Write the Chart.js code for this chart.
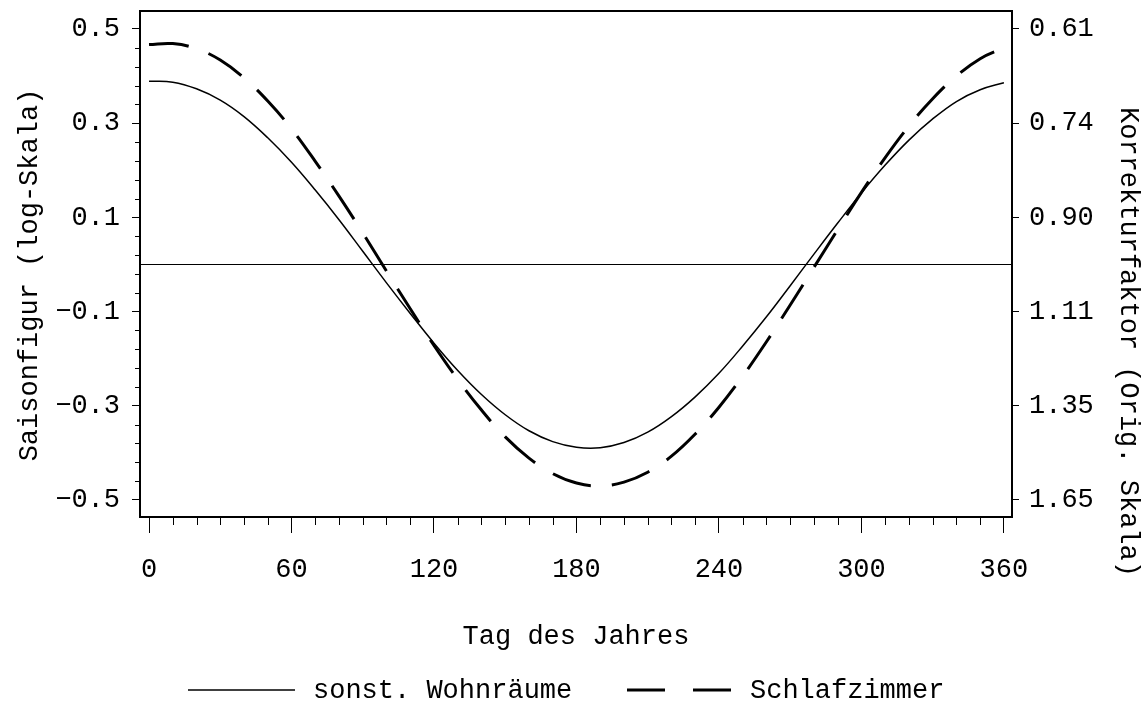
<!DOCTYPE html>
<html>
<head>
<meta charset="utf-8">
<script src="https://cdn.jsdelivr.net/npm/chart.js@4"></script>
<style>
  body { margin: 0; background: #fff; }
  #wrap { width: 1148px; height: 706px; }
</style>
</head>
<body>
<div id="wrap"><canvas id="chart" width="1148" height="706"></canvas></div>
<script>
const days = [0, 10, 20, 30, 40, 50, 60, 70, 80, 90, 100, 110, 120, 130, 140, 150, 160, 170, 180,
              190, 200, 210, 220, 230, 240, 250, 260, 270, 280, 290, 300, 310, 320, 330, 340, 350, 360];

// Saisonfigur, sonst. Wohnräume (durchgezogen)
const wohnraeume = [0.389, 0.387, 0.373, 0.349, 0.314, 0.269, 0.217, 0.158, 0.095, 0.028,
                    -0.039, -0.104, -0.167, -0.225, -0.276, -0.319, -0.353, -0.376, -0.388,
                    -0.389, -0.378, -0.356, -0.323, -0.281, -0.231, -0.173, -0.111, -0.045,
                    0.022, 0.088, 0.152, 0.211, 0.264, 0.309, 0.346, 0.371, 0.386];

// Saisonfigur, Schlafzimmer (gestrichelt)
const schlafzimmer = [0.467, 0.469, 0.458, 0.434, 0.396, 0.347, 0.288, 0.219, 0.145, 0.067,
                      -0.014, -0.094, -0.172, -0.244, -0.309, -0.366, -0.411, -0.444, -0.464,
                      -0.470, -0.462, -0.441, -0.407, -0.360, -0.303, -0.237, -0.164, -0.086,
                      -0.006, 0.074, 0.153, 0.227, 0.294, 0.352, 0.400, 0.437, 0.460];

const xTicks = [0, 60, 120, 180, 240, 300, 360];
const yTicks = [-0.5, -0.3, -0.1, 0.1, 0.3, 0.5];
const rightLabels = ['1.65', '1.35', '1.11', '0.90', '0.74', '0.61'];

const FONT = '"Liberation Mono", "DejaVu Sans Mono", monospace';

function noPad(s) {
    s.paddingTop = 0;
    s.paddingBottom = 0;
}

const extras = {
    id: 'extras',
    afterDraw(c) {
        const ctx = c.ctx;
        const a = c.chartArea;
        const sx = c.scales.x;
        const sy = c.scales.y;
        ctx.save();

        // Nulllinie
        ctx.strokeStyle = '#000';
        ctx.lineWidth = 1;
        const y0 = Math.round(sy.getPixelForValue(0)) + 0.5;
        ctx.beginPath();
        ctx.moveTo(a.left, y0);
        ctx.lineTo(a.right, y0);
        ctx.stroke();

        // kleine Striche
        ctx.beginPath();
        for (let d = 0; d <= 360; d += 10) {
            if (d % 60 === 0) continue;
            const px = Math.round(sx.getPixelForValue(d)) + 0.5;
            ctx.moveTo(px, a.bottom);
            ctx.lineTo(px, a.bottom + 8);
        }
        for (let i = 0; i <= 25; i++) {
            const v = -0.5 + i * 0.04;
            if (i % 5 === 0) continue;
            const py = Math.round(sy.getPixelForValue(v)) + 0.5;
            ctx.moveTo(a.left - 5, py);
            ctx.lineTo(a.left, py);
        }
        ctx.stroke();

        // Rahmen
        ctx.lineWidth = 2;
        ctx.strokeRect(a.left, a.top, a.right - a.left, a.bottom - a.top);

        // Achsentitel
        ctx.fillStyle = '#000';
        ctx.font = '27px ' + FONT;
        ctx.textAlign = 'center';
        ctx.textBaseline = 'middle';

        ctx.save();
        ctx.translate(30, 275);
        ctx.rotate(-Math.PI / 2);
        ctx.fillText('Saisonfigur (log-Skala)', 0, 0);
        ctx.restore();

        ctx.save();
        ctx.translate(1128, 342);
        ctx.rotate(Math.PI / 2);
        ctx.fillText('Korrekturfaktor (Orig. Skala)', 0, 0);
        ctx.restore();

        ctx.fillText('Tag des Jahres', 576, 637);

        // Legende
        ctx.textAlign = 'left';
        ctx.lineWidth = 1.5;
        ctx.beginPath();
        ctx.moveTo(188, 690);
        ctx.lineTo(295, 690);
        ctx.stroke();
        ctx.fillText('sonst. Wohnräume', 313, 691);

        ctx.lineWidth = 3;
        ctx.setLineDash([38, 28]);
        ctx.beginPath();
        ctx.moveTo(627, 690);
        ctx.lineTo(732, 690);
        ctx.stroke();
        ctx.setLineDash([]);
        ctx.fillText('Schlafzimmer', 750, 691);

        ctx.restore();
    }
};

new Chart(document.getElementById('chart'), {
    type: 'line',
    data: {
        datasets: [
            {
                label: 'sonst. Wohnräume',
                data: days.map((d, i) => ({ x: d, y: wohnraeume[i] })),
                borderColor: '#000',
                borderWidth: 1.5,
                pointRadius: 0,
                tension: 0.4,
                fill: false
            },
            {
                label: 'Schlafzimmer',
                data: days.map((d, i) => ({ x: d, y: schlafzimmer[i] })),
                borderColor: '#000',
                borderWidth: 3,
                borderDash: [40, 21],
                pointRadius: 0,
                tension: 0.4,
                fill: false
            }
        ]
    },
    options: {
        responsive: false,
        animation: false,
        layout: { padding: { top: 11 } },
        plugins: {
            legend: { display: false },
            tooltip: { enabled: false }
        },
        scales: {
            x: {
                type: 'linear',
                min: -3.8,
                max: 363.4,
                afterBuildTicks: s => { s.ticks = xTicks.map(v => ({ value: v })); },
                afterFit: s => { s.height = 189; s.paddingLeft = 0; s.paddingRight = 0; },
                grid: {
                    drawOnChartArea: false,
                    tickLength: 16,
                    tickColor: '#000',
                    tickWidth: 1
                },
                border: { display: false },
                ticks: {
                    color: '#000',
                    font: { family: FONT, size: 27 },
                    padding: 21,
                    maxRotation: 0
                }
            },
            y: {
                position: 'left',
                min: -0.5361,
                max: 0.5382,
                afterBuildTicks: s => { s.ticks = yTicks.map(v => ({ value: v })); },
                afterFit: s => { s.width = 140; noPad(s); },
                grid: {
                    drawOnChartArea: false,
                    tickLength: 8,
                    tickColor: '#000',
                    tickWidth: 1
                },
                border: { display: false },
                ticks: {
                    color: '#000',
                    font: { family: FONT, size: 27 },
                    padding: 12,
                    callback: v => v.toFixed(1).replace('-', '\u2212')
                }
            },
            y2: {
                position: 'right',
                min: -0.5361,
                max: 0.5382,
                afterBuildTicks: s => { s.ticks = yTicks.map(v => ({ value: v })); },
                afterFit: s => { s.width = 136; noPad(s); },
                grid: {
                    drawOnChartArea: false,
                    tickLength: 7,
                    tickColor: '#000',
                    tickWidth: 1
                },
                border: { display: false },
                ticks: {
                    color: '#000',
                    font: { family: FONT, size: 27 },
                    padding: 10,
                    callback: (v, i) => rightLabels[i]
                }
            }
        }
    },
    plugins: [extras]
});
</script>
</body>
</html>
